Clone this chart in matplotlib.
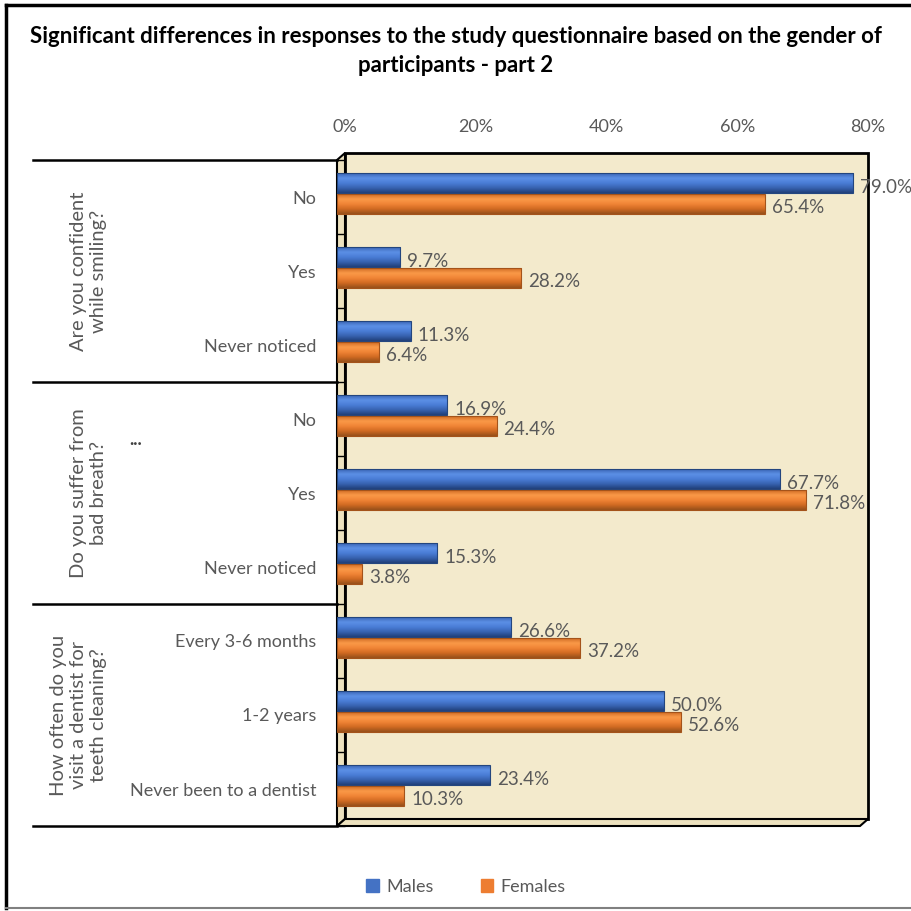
import numpy as np
import matplotlib.pyplot as plt
from matplotlib.patches import Rectangle, Polygon, Patch
from matplotlib.lines import Line2D
from matplotlib.colors import LinearSegmentedColormap
from matplotlib.transforms import ScaledTranslation, blended_transform_factory

# data
groups = ["Are you confident\nwhile smiling?",
          "Do you suffer from\nbad breath?",
          "How often do you\nvisit a dentist for\nteeth cleaning?"]
group_size = [3, 3, 3]
answers = ["No", "Yes", "Never noticed",
           "No", "Yes", "Never noticed",
           "Every 3-6 months", "1-2 years", "Never been to a dentist"]
males = [79.0, 9.7, 11.3, 16.9, 67.7, 15.3, 26.6, 50.0, 23.4]
females = [65.4, 28.2, 6.4, 24.4, 71.8, 3.8, 37.2, 52.6, 10.3]
xticks = [0, 20, 40, 60, 80]

plt.rcParams['font.family'] = ['Lato', 'DejaVu Sans']
gray = '#595959'
W, H = 912, 911

fig = plt.figure(figsize=(W / 100, H / 100), dpi=100)
ax = fig.add_axes([337 / W, 1 - 826 / H, 523 / W, 666 / H])
ax.patch.set_visible(False)
for s in ax.spines.values():
    s.set_visible(False)

# 3D box: back wall, left wall, floor
dx, dy = 8 / W, 7 / H
p = ax.get_position()
wall = '#F3EACC'
ax.add_patch(Rectangle((p.x0 + dx, p.y0 + dy), p.width, p.height, transform=fig.transFigure,
                       facecolor=wall, edgecolor='black', lw=2, zorder=0, clip_on=False))
ax.add_patch(Polygon([(p.x0, p.y0), (p.x0, p.y1), (p.x0 + dx, p.y1 + dy), (p.x0 + dx, p.y0 + dy)],
                     transform=fig.transFigure, facecolor='#EDE2BF', edgecolor='black', lw=1.5,
                     zorder=1, clip_on=False))
ax.add_patch(Polygon([(p.x0, p.y0), (p.x1, p.y0), (p.x1 + dx, p.y0 + dy), (p.x0 + dx, p.y0 + dy)],
                     transform=fig.transFigure, facecolor='#EDE2BF', edgecolor='black', lw=1.5,
                     zorder=1, clip_on=False))

# bars with cylinder-like shading
blue_cmap = LinearSegmentedColormap.from_list('b', ['#3B66B5', '#5C90E6', '#4A7DD6', '#3762B0', '#203F78'])
orange_cmap = LinearSegmentedColormap.from_list('o', ['#D06B25', '#FA9A48', '#F08436', '#D06A22', '#96501A'])
grad = np.linspace(0, 1, 64).reshape(-1, 1)
y = np.arange(len(answers)) + 0.5
h = 0.27
for vals, off, cmap, edge in [(males, -0.185, blue_cmap, '#23467F'),
                              (females, 0.09, orange_cmap, '#A4531A')]:
    bars = ax.barh(y + off, vals, height=h, color='none', edgecolor=edge, lw=0.8, zorder=4)
    for b, v in zip(bars, vals):
        y0, y1 = b.get_y(), b.get_y() + b.get_height()
        im = ax.imshow(grad, cmap=cmap, extent=(0, v, y1, y0), aspect='auto',
                       interpolation='bicubic', zorder=3)
        im.set_clip_path(b)
        ax.annotate(f"{v:.1f}%", (v, y0 + h / 2), xytext=(7, -4), textcoords='offset pixels',
                    ha='left', va='center', fontsize=13.5, color=gray, zorder=5)

ax.set_xlim(0, 80)
ax.set_ylim(len(answers), 0)
ax.set_xticks([])
ax.set_yticks(y)
ax.set_yticklabels(answers, fontsize=13, color=gray)
ax.tick_params(axis='y', which='major', length=0, pad=15)
ax.set_yticks(np.arange(len(answers) + 1), minor=True)
ax.tick_params(axis='y', which='minor', direction='in', length=5.5, width=1, color='black')

# top axis labels on the back wall
xt = ax.get_xaxis_transform() + ScaledTranslation(8 / 100, 33 / 100, fig.dpi_scale_trans)
for v in xticks:
    ax.text(v, 1, f"{v}%", transform=xt, ha='center', va='center', fontsize=13, color=gray)

# group separators and group labels
bt = blended_transform_factory(fig.transFigure, ax.transData)
edges = np.concatenate([[0], np.cumsum(group_size)])
for e in edges:
    fig.add_artist(Line2D([33 / W, p.x0], [e, e], transform=bt, color='black', lw=1.8))
for g, a, b in zip(groups, edges[:-1], edges[1:]):
    fig.text(107 / W, (a + b) / 2, g, transform=bt, rotation=90, ha='right', va='center',
             multialignment='center', fontsize=14.5, color=gray, linespacing=1.2)
fig.text(136 / W, 3.78, "...", transform=bt, ha='center', va='center', fontsize=13,
         color='#404040', fontweight='bold')

# title
fig.text(0.5, 1 - 51 / H, "Significant differences in responses to the study questionnaire based on the gender of\nparticipants - part 2",
         ha='center', va='center', fontsize=16, fontweight='bold', linespacing=1.45)

# legend
fig.legend(handles=[Patch(color='#4472C4'), Patch(color='#ED7D31')], labels=['Males', 'Females'],
           loc='center', bbox_to_anchor=(466 / W, 1 - 887 / H), ncol=2, frameon=False,
           fontsize=13, labelcolor=gray, handlelength=0.7, handleheight=0.7,
           handletextpad=0.4, columnspacing=2.6)

# outer frame
fig.add_artist(Line2D([6 / W, 6 / W], [1 - 5 / H, 1 - 908 / H], color='black', lw=2.5))
fig.add_artist(Line2D([6 / W, 1], [1 - 5 / H, 1 - 5 / H], color='black', lw=2.5))
fig.add_artist(Line2D([6 / W, 1], [1 - 908 / H, 1 - 908 / H], color='#808080', lw=1.5))

fig.savefig('out.png', dpi=100)
